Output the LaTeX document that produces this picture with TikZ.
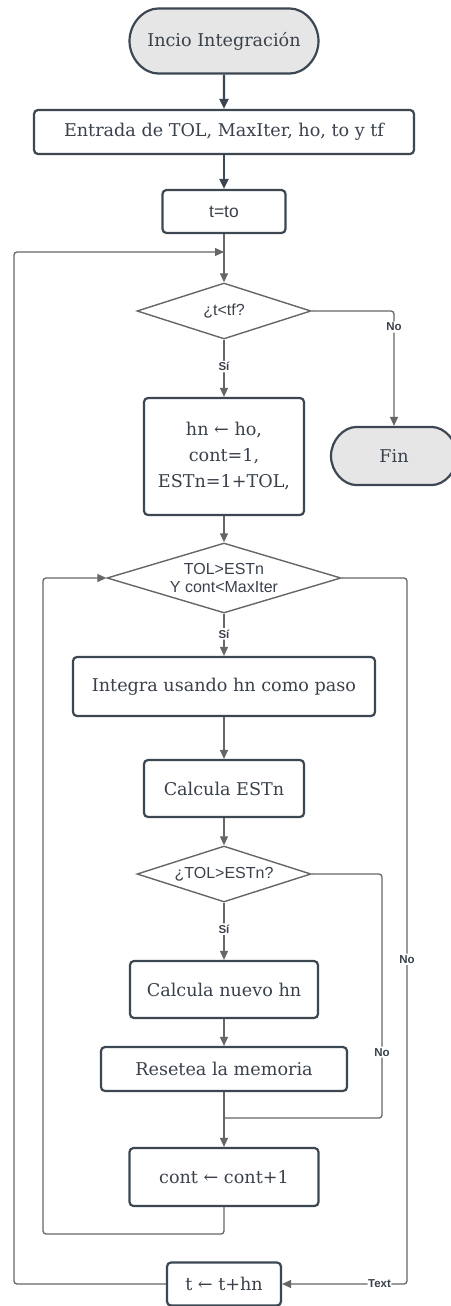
\documentclass[tikz,border=0pt]{standalone}
\usepackage{fontspec}
\setmainfont{DejaVu Serif}
\setsansfont{Liberation Sans}
\usetikzlibrary{arrows.meta,shapes.geometric,shapes.misc}
\definecolor{boxline}{HTML}{3D4752}
\definecolor{txtgray}{HTML}{3A414B}
\definecolor{linegray}{HTML}{666666}
\definecolor{termfill}{HTML}{E6E6E6}
\tikzset{
  proc/.style={draw=boxline, line width=2.2pt, rounded corners=4pt, fill=white, text=txtgray,
    inner sep=0pt, align=center, font=\fontsize{17.6}{26}\selectfont},
  term/.style={proc, rounded rectangle, fill=termfill},
  decis/.style={diamond, draw=linegray, line width=1.4pt, fill=white, inner sep=0pt, text=txtgray,
    align=center, font=\sffamily\fontsize{16}{18.5}\selectfont},
  conn/.style={draw=linegray, line width=1.3pt, rounded corners=3pt},
  flow/.style={conn, -{Triangle[length=9pt,width=8pt]}},
  mainflow/.style={draw=boxline, line width=2.4pt, -{Triangle[length=10pt,width=9pt]}},
  lbl/.style={fill=white, inner sep=1.5pt, text=txtgray, font=\sffamily\bfseries\fontsize{11.5}{13}\selectfont},
}
\begin{document}
\begin{tikzpicture}[x=1pt,y=-1pt]
  \useasboundingbox (0,0) rectangle (450,1306);
  \node[term, minimum width=189pt, minimum height=65pt] (start) at (224,41) {Incio Integración};
  \node[proc, minimum width=380pt, minimum height=44pt] (input) at (224,132) {Entrada de TOL, MaxIter, ho, to y tf};
  \node[proc, minimum width=123pt, minimum height=43pt, font=\sffamily\fontsize{17.5}{21}\selectfont] (init) at (224,211.5) {t=to};
  \node[decis, aspect=3.1, minimum width=174pt, minimum height=56pt] (tcheck) at (224,311) {¿t<tf?};
  \node[proc, minimum width=160pt, minimum height=117pt] (setup) at (224,456.5) {hn ← ho,\\cont=1,\\ESTn=1+TOL,};
  \node[term, minimum width=126pt, minimum height=58pt] (fin) at (394,456) {Fin};
  \node[decis, aspect=3.34, minimum width=234pt, minimum height=70pt] (loopcheck) at (224,578) {TOL>ESTn\\Y cont<MaxIter};
  \node[proc, minimum width=302pt, minimum height=59pt] (integ) at (224,686.5) {Integra usando hn como paso};
  \node[proc, minimum width=160pt, minimum height=57pt] (estim) at (224,788.5) {Calcula ESTn};
  \node[decis, aspect=3.1, minimum width=174pt, minimum height=56pt] (tolcheck) at (224,874) {¿TOL>ESTn?};
  \node[proc, minimum width=188pt, minimum height=57pt] (newh) at (224,989.5) {Calcula nuevo hn};
  \node[proc, minimum width=246pt, minimum height=44pt] (reset) at (224,1069) {Resetea la memoria};
  \node[proc, minimum width=189pt, minimum height=58pt] (count) at (224,1177) {cont ← cont+1};
  \node[proc, minimum width=114pt, minimum height=43pt] (step) at (224,1284) {t ← t+hn};
  \coordinate (outerjoin) at (224,252);
  \coordinate (outerleft) at (14,252);
  \coordinate (innerleft) at (43,1234);
  \coordinate (innerright) at (407,1284);
  \coordinate (toljoin) at (382,1118);
  \draw[mainflow] (start) -- (input);
  \draw[mainflow] (input) -- (init);
  \draw[flow] (init) -- (tcheck);
  \draw[flow] (tcheck.east) -| node[lbl, pos=0.57] {No} (fin.north);
  \draw[flow] (tcheck) -- node[lbl, pos=0.47] {Sí} (setup);
  \draw[flow] (setup) -- (loopcheck);
  \draw[flow] (loopcheck) -- node[lbl, pos=0.48] {Sí} (integ);
  \draw[flow] (integ) -- (estim);
  \draw[flow] (estim) -- (tolcheck);
  \draw[flow] (tolcheck) -- node[lbl, pos=0.46] {Sí} (newh);
  \draw[flow] (newh) -- (reset);
  \draw[flow] (reset) -- (count);
  \draw[conn] (tolcheck.east) -| node[lbl, pos=0.865] {No} (toljoin) -- (toljoin -| count.north);
  \draw[flow] (count.south) |- (innerleft) |- (loopcheck.west);
  \draw[flow] (loopcheck.east) -| node[lbl, pos=0.77] {No} (innerright) -- node[lbl, pos=0.22, inner sep=0.5pt] {Text} (step.east);
  \draw[flow] (step.west) -| (outerleft) -- (outerjoin);
\end{tikzpicture}
\end{document}
